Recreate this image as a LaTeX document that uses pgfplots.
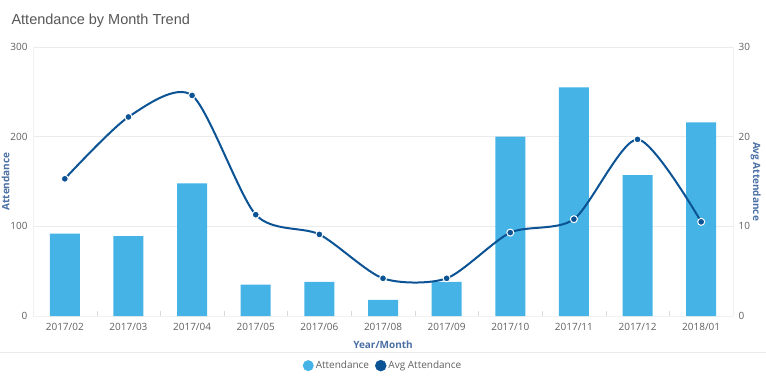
\documentclass[border=0pt]{standalone}
\usepackage{pgfplots}
\pgfplotsset{compat=1.18}
\usepackage{fontspec}
\setmainfont{Open Sans}
\newfontfamily\titlefont{Liberation Sans}
\definecolor{barc}{HTML}{45B3E6}
\definecolor{linec}{HTML}{0B5394}
\definecolor{tickc}{HTML}{606060}
\definecolor{labc}{HTML}{4A6FA5}
\definecolor{gridc}{HTML}{EBEBEB}
\begin{document}
\begin{tikzpicture}[x=1pt,y=1pt]
\useasboundingbox (0,0) rectangle (766,384);
\node[anchor=west,font=\titlefont\fontsize{14.5}{16}\selectfont,text=tickc!90!black] at (8,363) {Attendance by Month Trend};
\draw[gridc!80!black!30!white, line width=0.8pt] (0,32) -- (766,32);
\begin{axis}[
  at={(33pt,68pt)}, anchor=south west,
  scale only axis, width=700pt, height=269pt,
  xmin=-0.5, xmax=10.5, ymin=0, ymax=300,
  axis y line*=left, axis x line*=bottom,
  xtick={0,...,10},
  xticklabels={2017/02,2017/03,2017/04,2017/05,2017/06,2017/08,2017/09,2017/10,2017/11,2017/12,2018/01},
  minor xtick={-0.5,0.5,...,10.5},
  ytick={0,100,200,300},
  ymajorgrids, grid style={gridc, line width=0.6pt},
  major x tick style={draw=none},
  minor tick length=5pt,
  minor x tick style={gridc!70!black!40!white},
  y tick style={draw=none},
  axis line style={gridc!80!black!20!white, line width=0.6pt},
  tick label style={font=\fontsize{10}{12}\selectfont, text=tickc},
  /pgf/number format/assume math mode=true,
  xticklabel style={yshift=-4pt},
  yticklabel style={xshift=-2pt},
  xlabel={Year/Month}, ylabel={Attendance},
  label style={font=\bfseries\fontsize{10}{12}\selectfont, text=labc},
  xlabel style={yshift=-3pt},
  ylabel style={yshift=-6pt},
  legend style={at={(0.5,-0.152)}, anchor=north, draw=none, legend columns=2, font=\fontsize{10}{12}\selectfont, text=tickc, /tikz/every even column/.append style={column sep=4pt}},
]
\addplot[ybar, bar width=30pt, fill=barc, draw=none, area legend,
  legend image code/.code={\fill[barc] (0.25cm,0) circle (5.5pt);}]
  coordinates {(0,92) (1,89) (2,148) (3,35) (4,38) (5,18) (6,38) (7,200) (8,255) (9,157) (10,216)};
\addlegendentry{Attendance}
\addlegendimage{legend image code/.code={\fill[linec] (0.25cm,0) circle (5.5pt);}}
\addlegendentry{Avg Attendance}
\end{axis}
\begin{axis}[
  at={(33pt,68pt)}, anchor=south west,
  scale only axis, width=700pt, height=269pt,
  xmin=-0.5, xmax=10.5, ymin=0, ymax=30,
  axis y line*=right, axis x line=none,
  ytick={0,10,20,30},
  y tick style={draw=none},
  axis line style={gridc!80!black!20!white, line width=0.6pt},
  tick label style={font=\fontsize{10}{12}\selectfont, text=tickc},
  /pgf/number format/assume math mode=true,
  yticklabel style={xshift=2pt},
  ylabel={Avg Attendance},
  label style={font=\bfseries\fontsize{10}{12}\selectfont, text=labc},
  ylabel style={rotate=180, yshift=-6pt},
]
\addplot[linec, line width=2pt, smooth, tension=0.45, mark=*, mark size=3.5pt,
  mark options={fill=linec, draw=white, line width=1pt}]
  coordinates {(0,15.3) (1,22.2) (2,24.6) (3,11.3) (4,9.1) (5,4.2) (6,4.2) (7,9.3) (8,10.8) (9,19.7) (10,10.5)};
\end{axis}
\end{tikzpicture}
\end{document}
